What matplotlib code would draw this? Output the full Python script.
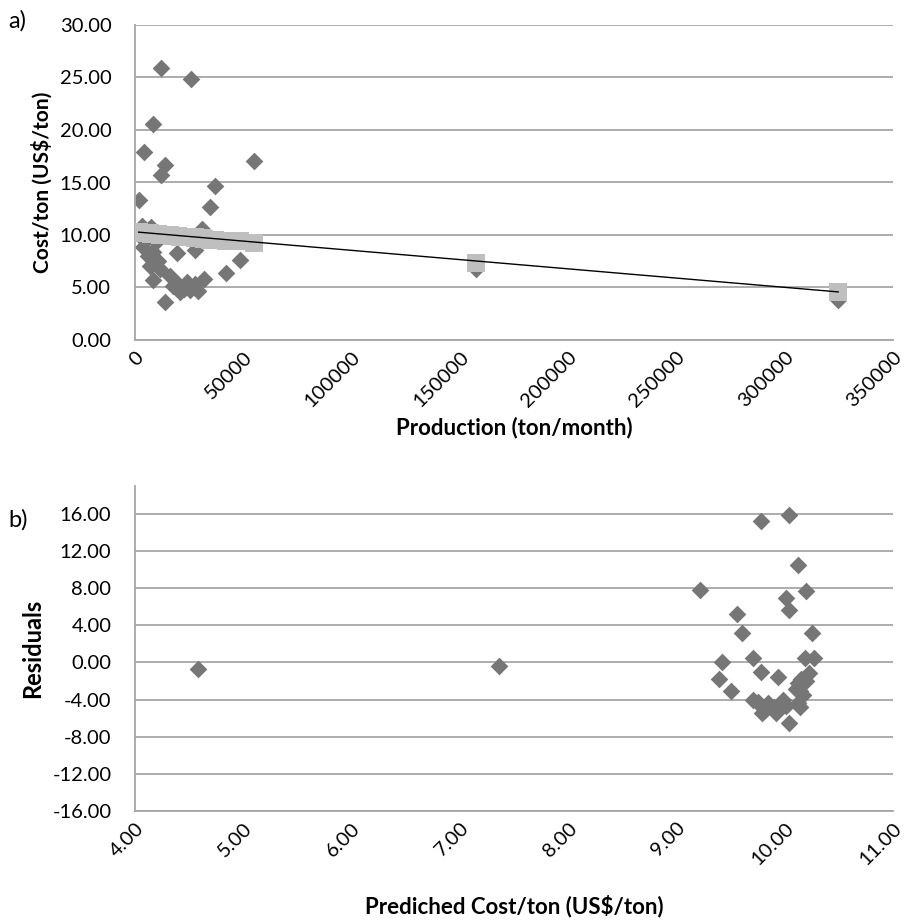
import numpy as np
import matplotlib
matplotlib.use("Agg")
import matplotlib.pyplot as plt

# a) production vs cost/ton (read off the picture)
production = [12000, 25800, 8500, 4300, 14000, 12000, 55100, 36900, 1700, 34400,
              3200, 7300, 30900, 3900, 8500, 19300, 27800, 48600, 42100, 6900,
              10800, 8500, 16200, 13900, 17700, 20800, 25500, 31800, 27500, 11600,
              6200, 22500, 24000, 29000, 20000, 2000, 5200, 9800, 157500, 324700]
cost = [25.9, 24.9, 20.6, 17.9, 16.7, 15.7, 17.0, 14.7, 13.3, 12.7,
        10.9, 10.8, 10.6, 8.9, 8.4, 8.3, 8.6, 7.6, 6.4, 7.0,
        7.5, 5.7, 6.1, 3.6, 5.1, 4.6, 4.8, 5.8, 5.3, 6.8,
        8.0, 4.9, 5.5, 4.7, 5.3, 10.0, 9.6, 9.3, 6.8, 3.8]

# b) predicted cost vs residuals
predicted = [9.78, 10.04, 10.12, 9.22, 10.20, 10.01, 10.04, 9.56, 9.61, 10.25,
             4.58, 7.36, 9.42, 9.39, 9.50, 9.71, 9.78, 9.94, 10.19, 10.27,
             10.22, 10.20, 10.12, 10.14, 10.17, 10.12, 10.14, 9.71, 9.77, 9.82,
             9.79, 9.90, 9.92, 9.98, 10.01, 10.04, 9.85, 10.10, 9.75, 10.15]
residuals = [15.2, 15.9, 10.5, 7.8, 7.7, 6.9, 5.7, 5.2, 3.2, 3.2,
             -0.71, -0.36, 0.0, -1.8, -3.05, 0.47, -1.07, -1.57, 0.47, 0.47,
             -1.15, -2.05, -2.2, -3.1, -3.5, -4.4, -4.8, -4.0, -4.6, -5.1,
             -5.45, -4.8, -5.45, -4.0, -4.7, -6.5, -4.4, -2.9, -4.3, -1.8]

y_ticks_a = [0, 5, 10, 15, 20, 25, 30]
x_ticks_a = [0, 50000, 100000, 150000, 200000, 250000, 300000, 350000]
y_ticks_b = [-16, -12, -8, -4, 0, 4, 8, 12, 16]
x_ticks_b = [4, 5, 6, 7, 8, 9, 10, 11]

FONT = ["Lato", "DejaVu Sans"]
plt.rcParams["font.family"] = FONT
GRID = "#a6a6a6"
DIAMOND = "#767676"
SQUARE = "#bfbfbf"

fig = plt.figure(figsize=(9.08, 9.22), dpi=100)
ax1 = fig.add_axes([135 / 908, 1 - 340 / 922, 758 / 908, 315 / 922])
ax2 = fig.add_axes([135 / 908, 1 - 811 / 922, 758 / 908, 325 / 922])


def style(ax):
    for s in ["top", "right"]:
        ax.spines[s].set_visible(False)
    for s in ["left", "bottom"]:
        ax.spines[s].set_color(GRID)
        ax.spines[s].set_linewidth(1.3)
    ax.grid(axis="y", color=GRID, linewidth=1.3)
    ax.set_axisbelow(True)
    ax.tick_params(length=0, labelsize=14.5)
    ax.tick_params(axis="y", pad=17)
    ax.tick_params(axis="x", pad=6)


# top panel
prod = np.array(production)
order = np.argsort(prod)
fitted = np.sort(np.array(predicted))[::-1]
ax1.scatter(prod, cost, marker="D", s=81, color=DIAMOND, linewidths=0, zorder=2)
ax1.scatter(prod[order], fitted, marker="s", s=150, color=SQUARE, linewidths=0, zorder=3)
ax1.plot([prod.min(), prod.max()], [fitted.max(), fitted.min()], color="black", lw=1, zorder=4)
ax1.set_xlim(0, 350000)
ax1.set_ylim(0, 30)
ax1.set_yticks(y_ticks_a)
ax1.set_yticklabels([f"{v:.2f}" for v in y_ticks_a])
ax1.set_xticks(x_ticks_a)
ax1.set_xticklabels([str(v) for v in x_ticks_a], rotation=45, ha="right", va="top",
                    rotation_mode="anchor")
style(ax1)
ax1.set_xlabel("Production (ton/month)", fontsize=16, fontweight="bold", labelpad=5)
ax1.set_ylabel("Cost/ton (US$/ton)", fontsize=15, fontweight="bold", labelpad=5)

# bottom panel
ax2.scatter(predicted, residuals, marker="D", s=81, color=DIAMOND, linewidths=0, zorder=2)
ax2.set_xlim(4, 11)
ax2.set_ylim(-16, 19)
ax2.set_yticks(y_ticks_b)
ax2.set_yticklabels([f"{v:.2f}" for v in y_ticks_b])
ax2.set_xticks(x_ticks_b)
ax2.set_xticklabels([f"{v:.2f}" for v in x_ticks_b], rotation=45, ha="right", va="top",
                    rotation_mode="anchor")
style(ax2)
ax2.set_xlabel("Prediched Cost/ton (US$/ton)", fontsize=16, fontweight="bold", labelpad=19)
ax2.set_ylabel("Residuals", fontsize=17, fontweight="bold", labelpad=6)

fig.text(8 / 908, 1 - 21 / 922, "a)", fontsize=17, va="center")
fig.text(8 / 908, 1 - 520 / 922, "b)", fontsize=17, va="center")

fig.savefig("out.png", dpi=100)
